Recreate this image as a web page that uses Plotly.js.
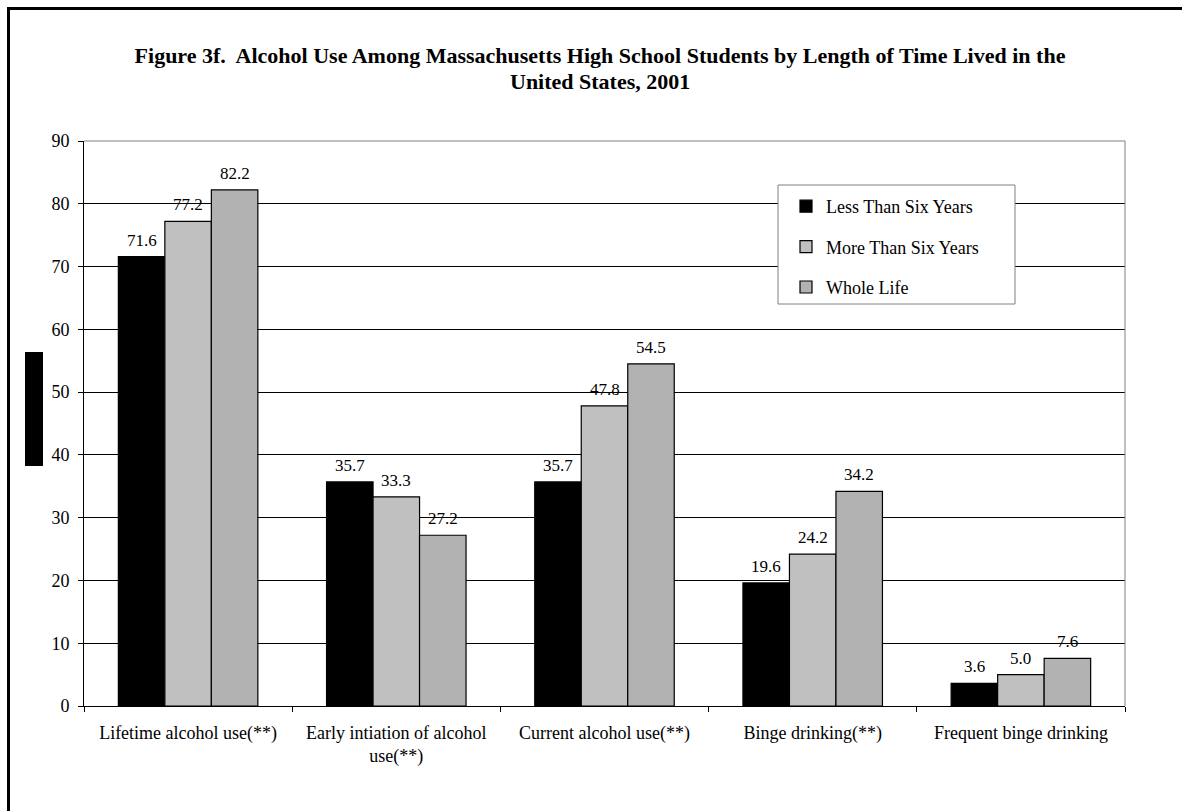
<!DOCTYPE html>
<html><head><meta charset="utf-8">
<script src="https://cdn.plot.ly/plotly-3.0.1.min.js"></script>
<style>html,body{margin:0;padding:0;background:#fff}#chart{width:1182px;height:811px}</style>
</head><body><div id="chart"></div>
<script>
const categories = ["Lifetime alcohol use(**)", "Early intiation of alcohol<br>use(**)", "Current alcohol use(**)", "Binge drinking(**)", "Frequent binge drinking"];
const seriesNames = ["Less Than Six Years", "More Than Six Years", "Whole Life"];
const lessThanSix = [71.6, 35.7, 35.7, 19.6, 3.6];
const moreThanSix = [77.2, 33.3, 47.8, 24.2, 5.0];
const wholeLife = [82.2, 27.2, 54.5, 34.2, 7.6];
const colors = ["#000000", "#c0c0c0", "#b2b2b2"];
const yTicks = [0, 10, 20, 30, 40, 50, 60, 70, 80, 90];
const titleLine1 = "Figure 3f.  Alcohol Use Among Massachusetts High School Students by Length of Time Lived in the";
const titleLine2 = "United States, 2001";

const serif = "Liberation Serif, Times New Roman, serif";
const values = [lessThanSix, moreThanSix, wholeLife];
const bargap = 0.33;
const traces = values.map((v, i) => ({
  type: "bar", x: categories, y: v, name: seriesNames[i],
  legendgroup: "g" + i,
  marker: {color: colors[i], line: {color: "#000", width: 1.2}},
  hoverinfo: "x+y"
}));

const L = 84, R = 1125, T = 141, B = 706, W = 1182, H = 811;
const px = x => (x - L) / (R - L);
const py = y => (B - y) / (B - T);

// value labels positioned via the category axis (category index + group offset)
const bw = (1 - bargap) / values.length;
const annotations = [];
values.forEach((v, j) => v.forEach((val, i) => annotations.push({
  xref: "x", yref: "y", x: i + (j - (values.length - 1) / 2) * bw, y: val,
  text: val.toFixed(1), showarrow: false, yanchor: "bottom", yshift: 5,
  font: {family: serif, size: 17, color: "#000"}
})));
annotations.push({
  xref: "paper", yref: "paper", x: px(600), y: py(81), xanchor: "center", yanchor: "middle",
  text: "<b>" + titleLine2 + "</b>", showarrow: false,
  font: {family: serif, size: 22, color: "#000"}
});

const layout = {
  width: W, height: H,
  margin: {l: L, r: W - R, t: T, b: H - B, pad: 0},
  paper_bgcolor: "#fff", plot_bgcolor: "#fff",
  font: {family: serif, size: 18, color: "#000"},
  title: {
    text: "<b>" + titleLine1 + "</b>",
    font: {family: serif, size: 22, color: "#000"},
    x: 600 / W, xanchor: "center", y: 1 - 55 / H, yanchor: "middle", xref: "container", yref: "container"
  },
  barmode: "group", bargap: bargap, bargroupgap: 0,
  xaxis: {
    type: "category", showline: true, linecolor: "#000", linewidth: 1,
    ticks: "outside", tickson: "boundaries", ticklen: 5, tickcolor: "#000",
    ticklabelstandoff: 10,
    tickfont: {family: serif, size: 18, color: "#000"}, showgrid: false
  },
  yaxis: {
    range: [0, 90], tickvals: yTicks, showline: true, linecolor: "#000", linewidth: 1,
    ticks: "outside", ticklen: 5, tickcolor: "#000", ticklabelstandoff: 5,
    showgrid: true, gridcolor: "#000", gridwidth: 1, zeroline: false,
    tickfont: {family: serif, size: 18, color: "#000"}
  },
  legend: {
    x: px(786), y: py(188), xanchor: "left", yanchor: "top",
    borderwidth: 0, bgcolor: "rgba(0,0,0,0)",
    font: {family: serif, size: 18, color: "#000"}, tracegroupgap: 14,
    itemwidth: 30
  },
  annotations: annotations,
  shapes: [
    {type: "line", xref: "paper", yref: "paper", x0: 0, x1: 1, y0: 1, y1: 1, line: {color: "#808080", width: 1}},
    {type: "line", xref: "paper", yref: "paper", x0: 1, x1: 1, y0: 0, y1: 1, line: {color: "#808080", width: 1}},
    {type: "rect", xref: "paper", yref: "paper", x0: px(778), x1: px(1015), y0: py(304), y1: py(185), fillcolor: "#fff", line: {color: "#808080", width: 1}, layer: "above"},
    {type: "line", xref: "paper", yref: "paper", x0: px(8.5), x1: px(8.5), y0: py(7), y1: py(820), line: {color: "#000", width: 3}},
    {type: "line", xref: "paper", yref: "paper", x0: px(7), x1: px(1190), y0: py(8.5), y1: py(8.5), line: {color: "#000", width: 3}},
    {type: "rect", xref: "paper", yref: "paper", x0: px(25), x1: px(43), y0: py(466), y1: py(352), fillcolor: "#000", line: {width: 0}}
  ]
};
Plotly.newPlot("chart", traces, layout, {displayModeBar: false, staticPlot: true});
</script></body></html>
